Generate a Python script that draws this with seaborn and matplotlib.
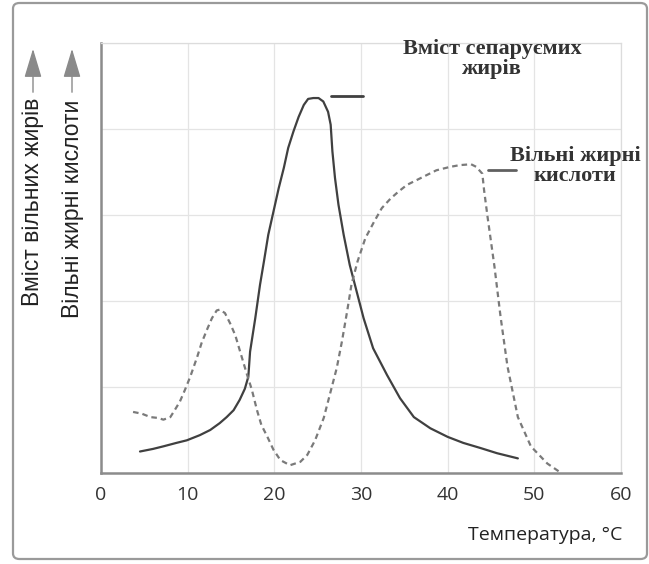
import matplotlib
matplotlib.use("Agg")
import matplotlib.pyplot as plt
from matplotlib.patches import FancyBboxPatch
import pandas as pd
import seaborn as sns

# ---- data ----
sep_x = [4.5, 6.0, 7.2, 8.7, 9.9, 11.4, 12.6, 13.7, 14.5, 15.3, 16.0, 16.6, 17.0,
         17.2, 17.8, 18.35, 18.8, 19.3, 19.9, 20.5, 21.1, 21.6, 22.2, 22.8, 23.4,
         23.9, 24.5, 25.1, 25.65, 26.2, 26.5, 26.7, 27.0, 27.4, 28.0, 28.7, 29.5,
         30.3, 31.4, 33.0, 34.5, 36.1, 38.0, 40.0, 41.8, 43.8, 45.7, 48.1]
sep_y = [0.25, 0.28, 0.31, 0.35, 0.38, 0.44, 0.50, 0.58, 0.65, 0.73, 0.85, 0.98, 1.12,
         1.41, 1.80, 2.19, 2.46, 2.77, 3.04, 3.31, 3.55, 3.78, 3.97, 4.14, 4.28,
         4.35, 4.36, 4.36, 4.32, 4.20, 4.05, 3.74, 3.43, 3.12, 2.77, 2.42, 2.11,
         1.80, 1.45, 1.14, 0.87, 0.65, 0.52, 0.42, 0.35, 0.29, 0.23, 0.17]

ffa_x = [3.7, 4.7, 5.7, 6.6, 7.2, 8.0, 8.5, 9.1, 9.7, 10.3, 11.1, 11.6, 12.2, 12.8,
         13.35, 13.7, 14.3, 14.9, 15.5, 16.0, 16.8, 17.4, 18.0, 18.5, 19.2, 19.9,
         20.7, 21.8, 23.0, 23.8, 24.7, 25.7, 26.4, 27.2, 27.8, 28.4, 28.9, 29.6,
         30.5, 31.5, 32.4, 33.4, 34.3, 35.3, 36.3, 37.3, 38.7, 40.3, 41.4, 42.7,
         43.3, 44.0, 44.2, 44.6, 45.4, 46.1, 46.9, 48.1, 49.6, 51.5, 53.1]
ffa_y = [0.71, 0.69, 0.65, 0.64, 0.62, 0.65, 0.73, 0.83, 0.97, 1.12, 1.35, 1.51, 1.66,
         1.80, 1.89, 1.90, 1.86, 1.74, 1.60, 1.43, 1.16, 0.97, 0.73, 0.56, 0.42, 0.27,
         0.15, 0.09, 0.13, 0.21, 0.38, 0.64, 0.91, 1.22, 1.53, 1.88, 2.19, 2.46,
         2.73, 2.92, 3.08, 3.19, 3.27, 3.35, 3.40, 3.45, 3.52, 3.56, 3.58, 3.59,
         3.56, 3.48, 3.29, 2.98, 2.40, 1.82, 1.24, 0.65, 0.31, 0.11, 0.0]

x_ticks = [0, 10, 20, 30, 40, 50, 60]
y_grid = [0, 1, 2, 3, 4, 5]

sep_label = "Вміст сепаруємих\nжирів"
ffa_label = "Вільні жирні\nкислоти"
sep_leader_x = [26.5, 30.2]
sep_leader_y = [4.38, 4.38]
ffa_leader_x = [44.6, 47.9]
ffa_leader_y = [3.52, 3.52]
ylabel1 = "Вміст вільних жирів"
ylabel2 = "Вільні жирні кислоти"
xlabel = "Температура, °C"

# ---- figure ----
sns.set_theme(style="white")
plt.rcParams["font.family"] = ["Open Sans", "DejaVu Sans"]

W, H = 649, 564
fig = plt.figure(figsize=(W / 100, H / 100), dpi=100)
ax = fig.add_axes([101 / W, 1 - 473 / H, (621 - 101) / W, (473 - 43) / H])

df_sep = pd.DataFrame({"x": sep_x, "y": sep_y})
df_ffa = pd.DataFrame({"x": ffa_x, "y": ffa_y})
sns.lineplot(data=df_sep, x="x", y="y", ax=ax, color="#404040", lw=1.6, sort=False)
sns.lineplot(data=df_ffa, x="x", y="y", ax=ax, color="#7a7a7a", lw=1.6, sort=False,
             linestyle=(0, (2.5, 1.8)))

ax.plot(sep_leader_x, sep_leader_y, color="#404040", lw=2)
ax.plot(ffa_leader_x, ffa_leader_y, color="#606060", lw=2)

ax.set_xlim(0, 60)
ax.set_ylim(0, 5)
ax.set_xticks(x_ticks)
ax.set_xticklabels([str(t) for t in x_ticks], fontsize=14, color="#333333")
ax.set_yticks(y_grid)
ax.set_yticklabels([])
ax.tick_params(axis="both", length=0, pad=9)
ax.grid(True, color="#e4e4e4", lw=0.9)
ax.set_xlabel("")
ax.set_ylabel("")
for s in ["top", "right"]:
    ax.spines[s].set_color("#dcdcdc")
    ax.spines[s].set_linewidth(0.9)
for s in ["left", "bottom"]:
    ax.spines[s].set_color("#8c8c8c")
    ax.spines[s].set_linewidth(1.8)

# serif annotations
fig.text(492 / W, 1 - 59 / H, sep_label, ha="center", va="center", fontsize=16,
         family="Liberation Serif", fontweight="bold", color="#333333",
         linespacing=1.05)
fig.text(575 / W, 1 - 166 / H, ffa_label, ha="center", va="center", fontsize=16,
         family="Liberation Serif", fontweight="bold", color="#333333",
         linespacing=1.05)

# x label
fig.text(622 / W, 1 - 535 / H, xlabel, ha="right", va="center", fontsize=14,
         color="#222222")

# rotated y labels with arrows
for xc, ybot, txt in [(33, 306, ylabel1), (72, 318, ylabel2)]:
    t = fig.text(xc / W, 1 - ybot / H, txt, rotation=90, ha="center", va="bottom",
                 fontsize=16.5, family="Liberation Sans", color="#222222")
    ax.annotate("", xy=(xc / W, 1 - 46 / H), xytext=(xc / W, 1 - 95 / H),
                xycoords="figure fraction", textcoords="figure fraction",
                arrowprops=dict(arrowstyle="-|>,head_length=1.5,head_width=0.45",
                                color="#8a8a8a", lw=1.0))

# outer rounded border
border = FancyBboxPatch((13 / W, 5 / H), (647 - 13) / W, (561 - 5) / H,
                        boxstyle="round,pad=0,rounding_size=0.01",
                        transform=fig.transFigure, fill=False,
                        edgecolor="#9a9a9a", lw=1.6)
fig.patches.append(border)

fig.savefig("out.png", dpi=100)
